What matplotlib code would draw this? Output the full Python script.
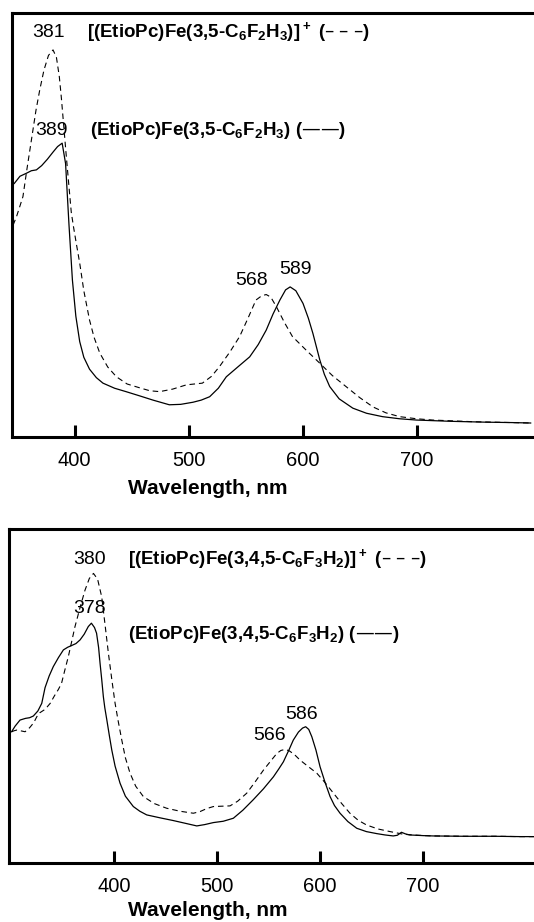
import matplotlib
matplotlib.use("Agg")
import matplotlib.pyplot as plt
import numpy as np

plt.rcParams['font.family'] = ['Liberation Sans', 'DejaVu Sans']
plt.rcParams['mathtext.default'] = 'regular'

# 3,5-difluorophenyl complex: neutral (solid) and cation (dashed)
wl_a_neutral = [347, 352, 357.6, 362, 366.4, 371, 376, 381, 385, 389, 392, 395, 398, 401,
                404.4, 408, 413, 419, 424.8, 435, 445, 457, 468.7, 483, 493, 503.8, 511,
                518.4, 526, 533, 543, 553.5, 561, 568, 574, 580, 585, 589, 594, 600.3, 605,
                609, 615, 619, 623.7, 632, 644, 656, 670, 685, 699.7, 730, 760, 784, 800]
abs_a_neutral = [0.598, 0.615, 0.622, 0.628, 0.630, 0.640, 0.655, 0.672, 0.685, 0.693, 0.645,
                 0.500, 0.370, 0.285, 0.225, 0.188, 0.160, 0.140, 0.127, 0.115, 0.107, 0.097,
                 0.087, 0.076, 0.077, 0.082, 0.087, 0.095, 0.115, 0.142, 0.165, 0.189, 0.218,
                 0.252, 0.290, 0.323, 0.347, 0.354, 0.345, 0.315, 0.280, 0.244, 0.182, 0.148,
                 0.119, 0.090, 0.068, 0.056, 0.048, 0.043, 0.040, 0.037, 0.035, 0.034, 0.033]
wl_a_cation = [346, 349, 352, 354.6, 358, 362, 366, 369.3, 373, 377, 381, 384, 386.5, 388.3,
               390.5, 392.7, 395, 397, 399, 401.5, 404.4, 408, 413, 417, 422, 429, 436.6, 446,
               457, 466, 474.6, 486, 498, 512, 520, 527, 536, 544.7, 552, 559, 564, 568, 572,
               577, 584, 591, 603, 615, 626, 638, 650, 661.6, 673, 685, 700, 714, 750, 784, 800]
abs_a_cation = [0.500, 0.520, 0.545, 0.567, 0.630, 0.700, 0.770, 0.818, 0.865, 0.900, 0.913,
                0.895, 0.850, 0.800, 0.730, 0.660, 0.590, 0.530, 0.495, 0.455, 0.410, 0.345,
                0.276, 0.235, 0.198, 0.165, 0.142, 0.125, 0.116, 0.109, 0.107, 0.113, 0.123,
                0.127, 0.143, 0.166, 0.200, 0.237, 0.280, 0.323, 0.333, 0.336, 0.330, 0.307,
                0.270, 0.237, 0.205, 0.174, 0.145, 0.119, 0.093, 0.071, 0.057, 0.048, 0.043,
                0.040, 0.036, 0.034, 0.033]

# 3,4,5-trifluorophenyl complex
wl_b_neutral = [300.5, 304, 308.7, 314, 318, 321.6, 326, 329.8, 333, 337, 341, 346, 350.8, 355,
                358, 363, 367, 371, 375, 378, 381, 383, 385, 386.4, 388, 389.6, 391, 393, 395.5,
                397.8, 401, 405.8, 411, 418.7, 425, 431.7, 445, 457.6, 469, 480.3, 488, 496.4,
                506, 515.8, 525, 535, 545, 554.7, 560, 564.4, 570, 574, 579, 583, 586, 589, 592,
                596, 600, 605, 609.7, 614, 619.4, 627, 635.6, 645, 655, 663, 671, 675, 679, 683,
                687, 700, 709.7, 740, 770, 794, 812]
abs_b_neutral = [0.393, 0.410, 0.428, 0.433, 0.435, 0.440, 0.455, 0.478, 0.525, 0.560, 0.588,
                 0.615, 0.638, 0.646, 0.650, 0.657, 0.668, 0.685, 0.708, 0.718, 0.705, 0.688,
                 0.645, 0.598, 0.550, 0.498, 0.465, 0.428, 0.380, 0.338, 0.290, 0.239, 0.200,
                 0.169, 0.155, 0.144, 0.135, 0.127, 0.119, 0.111, 0.115, 0.121, 0.125, 0.134,
                 0.158, 0.189, 0.222, 0.258, 0.282, 0.303, 0.340, 0.368, 0.392, 0.404, 0.408,
                 0.400, 0.378, 0.338, 0.288, 0.240, 0.199, 0.172, 0.149, 0.124, 0.104, 0.094,
                 0.088, 0.084, 0.081, 0.083, 0.092, 0.087, 0.084, 0.082, 0.081, 0.080, 0.080,
                 0.079, 0.079]
wl_b_cation = [300.7, 303, 305.5, 309, 313.6, 318, 322, 325, 328, 333, 338, 342, 346, 349, 352,
               355.6, 359, 362, 367, 371.8, 376, 380, 384, 388, 391, 394.5, 398, 401, 404, 407.5,
               411, 415.5, 421, 428.4, 439, 451, 464, 477, 483.5, 490, 496.4, 504, 512.6, 520,
               528.8, 537, 545, 552, 558, 562, 566, 570, 575, 580.6, 588, 596.8, 605, 613, 621,
               629, 637, 645, 656, 668, 681, 695, 709.7, 740, 770, 794, 812]
abs_b_cation = [0.393, 0.396, 0.398, 0.396, 0.393, 0.405, 0.420, 0.438, 0.450, 0.460, 0.478,
                0.500, 0.520, 0.538, 0.575, 0.618, 0.665, 0.707, 0.765, 0.817, 0.852, 0.867,
                0.850, 0.797, 0.720, 0.628, 0.545, 0.478, 0.425, 0.368, 0.315, 0.269, 0.230,
                0.199, 0.178, 0.164, 0.155, 0.149, 0.154, 0.163, 0.169, 0.170, 0.171, 0.185,
                0.209, 0.243, 0.278, 0.305, 0.328, 0.337, 0.340, 0.336, 0.325, 0.308, 0.290,
                0.269, 0.240, 0.209, 0.178, 0.149, 0.128, 0.114, 0.102, 0.094, 0.086, 0.083,
                0.081, 0.080, 0.080, 0.079, 0.079]

# band maxima, nm
peaks_a = {'soret_cation': 381, 'soret_neutral': 389, 'q_cation': 568, 'q_neutral': 589}
peaks_b = {'soret_cation': 380, 'soret_neutral': 378, 'q_cation': 566, 'q_neutral': 586}

name_a_cation = r"[(EtioPc)Fe(3,5-C$_6$F$_2$H$_3$)]$^+$ (– – –)"
name_a_neutral = r"(EtioPc)Fe(3,5-C$_6$F$_2$H$_3$) (——)"
name_b_cation = r"[(EtioPc)Fe(3,4,5-C$_6$F$_3$H$_2$)]$^+$ (– – –)"
name_b_neutral = r"(EtioPc)Fe(3,4,5-C$_6$F$_3$H$_2$) (——)"

xticks = [400, 500, 600, 700]


def setup_axes(ax, xlim, ylim):
    ax.set_xlim(*xlim)
    ax.set_ylim(*ylim)
    for s in ax.spines.values():
        s.set_linewidth(2.2)
    ax.set_yticks([])
    ax.set_xticks(xticks)
    ax.tick_params(axis='x', direction='in', length=9, width=2.2, pad=10, labelsize=14.5)
    ax.set_xlabel("Wavelength, nm", fontsize=15, fontweight='bold')


fig = plt.figure(figsize=(5.34, 9.22), dpi=100)

# upper panel
ax1 = fig.add_axes([12 / 534, 1 - 437 / 922, 532 / 534, 424 / 922])
setup_axes(ax1, (345, 811.7), (0, 1))
ax1.plot(wl_a_neutral, abs_a_neutral, color='black', lw=0.9)
ax1.plot(wl_a_cation, abs_a_cation, color='black', lw=0.8, linestyle=(0, (5, 3.5)))
ax1.xaxis.set_label_coords((208 - 12) / 532, -0.10)

ax1.text(377, 0.955, str(peaks_a['soret_cation']), fontsize=14, ha='center', va='center')
ax1.text(380, 0.722, str(peaks_a['soret_neutral']), fontsize=14, ha='center', va='center')
ax1.text(555, 0.370, str(peaks_a['q_cation']), fontsize=14, ha='center', va='center')
ax1.text(594, 0.394, str(peaks_a['q_neutral']), fontsize=14, ha='center', va='center')
ax1.text(410.5, 0.955, name_a_cation, fontsize=13.5, fontweight='bold', ha='left', va='center')
ax1.text(413, 0.722, name_a_neutral, fontsize=13.5, fontweight='bold', ha='left', va='center')

# lower panel
ax2 = fig.add_axes([9 / 534, 1 - 863 / 922, 535 / 534, 334 / 922])
setup_axes(ax2, (298, 817.4), (0, 1))
ax2.plot(wl_b_neutral, abs_b_neutral, color='black', lw=0.9)
ax2.plot(wl_b_cation, abs_b_cation, color='black', lw=0.8, linestyle=(0, (5, 3.5)))
ax2.xaxis.set_label_coords((208 - 9) / 535, -0.115)

ax2.text(376.4, 0.910, str(peaks_b['soret_cation']), fontsize=14, ha='center', va='center')
ax2.text(376, 0.762, str(peaks_b['soret_neutral']), fontsize=14, ha='center', va='center')
ax2.text(550.8, 0.383, str(peaks_b['q_cation']), fontsize=14, ha='center', va='center')
ax2.text(581.6, 0.446, str(peaks_b['q_neutral']), fontsize=14, ha='center', va='center')
ax2.text(413.6, 0.910, name_b_cation, fontsize=13.5, fontweight='bold', ha='left', va='center')
ax2.text(413.6, 0.683, name_b_neutral, fontsize=13.5, fontweight='bold', ha='left', va='center')

fig.savefig("out.png", dpi=100)
